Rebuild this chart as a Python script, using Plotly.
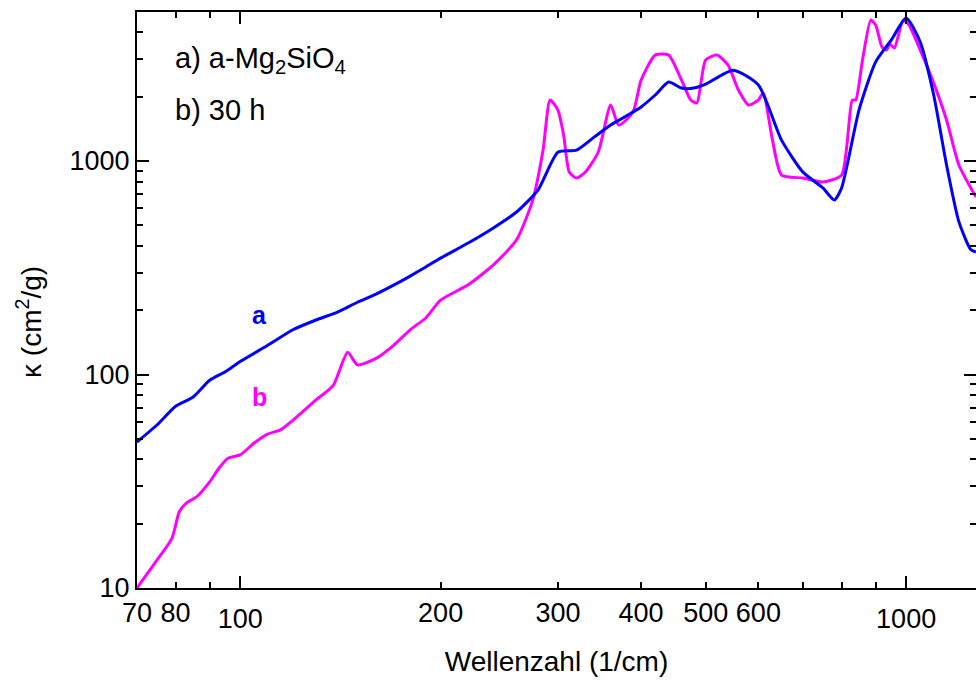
import numpy as np
import plotly.graph_objects as go

# ---- data ----
wn_a = [70, 75, 80, 85, 90, 95, 100, 110, 120, 130, 140, 150, 160, 170, 180, 190, 200,
        220, 240, 260, 280, 300, 320, 340, 360, 380, 400, 420, 440, 460, 480, 500, 550,
        600, 650, 700, 750, 780, 800, 850, 900, 950, 1000, 1050, 1100, 1150, 1200, 1250, 1273]
kappa_a = [48.3, 58, 71, 78.5, 94, 103, 115, 137, 162, 180, 196, 218, 238, 262, 289, 319, 351,
           413, 486, 577, 731, 1100, 1125, 1294, 1474, 1625, 1792, 2038, 2344, 2196, 2196, 2291, 2665,
           2270, 1253, 887, 748, 657, 748, 1741, 2912, 3690, 4677, 3606, 2038, 958, 520, 385, 375]

wn_b = [70, 75, 79, 81, 83, 86, 90, 93, 96, 100, 105, 110, 115, 120, 130, 138, 145, 150, 160,
        170, 180, 190, 200, 220, 240, 260, 275, 285, 292, 300, 306, 312, 320, 330, 345, 360,
        370, 380, 390, 400, 420, 440, 460, 475, 485, 500, 520, 540, 560, 580, 600, 610, 630,
        650, 700, 750, 800, 830, 840, 860, 885, 900, 920, 935, 945, 960, 990, 1010, 1050,
        1100, 1150, 1200, 1273]
kappa_b = [10, 13.5, 17.1, 22.7, 25, 26.7, 31.4, 36.5, 40.6, 42, 47.8, 52.6, 55, 61, 76, 89, 127, 111, 119,
           137, 162, 184, 223, 263, 326, 427, 656, 1125, 1930, 1733, 1324, 888, 832, 888, 1102, 1828,
           1474, 1557, 1733, 2393, 3134, 3134, 2393, 1930, 1870, 2973, 3134, 2818, 2150, 1828, 1930, 2080, 1253,
           859, 832, 798, 859, 1930, 1930, 2973, 4571, 4335, 3420, 3310, 3534, 3381, 4571, 4335, 3310,
           2317, 1557, 958, 678]

x_major = [100, 1000]
x_major_text = ["100", "1000"]
x_extra_labels = [70, 80, 200, 300, 400, 500, 600]
x_minor = [70, 80, 90, 200, 300, 400, 500, 600, 700, 800, 900]
y_major = [10, 100, 1000]
y_major_text = ["10", "100", "1000"]
y_minor = [20, 30, 40, 50, 60, 70, 80, 90, 200, 300, 400, 500, 600, 700, 800, 900,
           2000, 3000, 4000, 5000]

XR = [np.log10(70), 3.1049]
YR = [1.0, 3.698]

FONT = "Liberation Sans, Arial, sans-serif"
BLUE = "#0000ff"
MAGENTA = "#ff00ff"

fig = go.Figure()
fig.add_trace(go.Scatter(x=wn_b, y=kappa_b, mode="lines", line=dict(color=MAGENTA, width=3, shape="spline", smoothing=0.6),
                         showlegend=False, hoverinfo="skip"))
fig.add_trace(go.Scatter(x=wn_a, y=kappa_a, mode="lines", line=dict(color=BLUE, width=3, shape="spline", smoothing=0.6),
                         showlegend=False, hoverinfo="skip"))
# empty traces so overlay axes are drawn
fig.add_trace(go.Scatter(x=[], y=[], xaxis="x2", yaxis="y", showlegend=False))
fig.add_trace(go.Scatter(x=[], y=[], xaxis="x3", yaxis="y", showlegend=False))
fig.add_trace(go.Scatter(x=[], y=[], xaxis="x", yaxis="y2", showlegend=False))

common = dict(showgrid=False, zeroline=False)
fig.update_layout(
    width=976, height=681,
    margin=dict(l=137, r=0, t=12, b=93),
    paper_bgcolor="white", plot_bgcolor="white",
    font=dict(family=FONT, color="black", size=27),
    showlegend=False,
    xaxis=dict(type="log", range=XR, showline=True, linecolor="black", linewidth=2,
               ticks="inside", tickvals=x_major, ticktext=x_major_text, ticklen=12, tickwidth=2,
               tickcolor="black", tickfont=dict(size=27), ticklabelstandoff=6,
               minor=dict(tickvals=x_minor, ticks="inside", ticklen=6, tickwidth=2, tickcolor="black"),
               title=dict(text="Wellenzahl (1/cm)", font=dict(size=28), standoff=18), **common),
    xaxis2=dict(type="log", range=XR, overlaying="x", anchor="y", side="bottom", showline=False,
                ticks="", tickvals=x_extra_labels, ticktext=[str(v) for v in x_extra_labels],
                tickfont=dict(size=27), ticklabelstandoff=6, **common),
    xaxis3=dict(type="log", range=XR, overlaying="x", anchor="y", side="top", showline=True,
                linecolor="black", linewidth=2, ticks="inside", tickvals=x_major, ticklen=12, tickwidth=2,
                tickcolor="black", showticklabels=False,
                minor=dict(tickvals=x_minor, ticks="inside", ticklen=6, tickwidth=2, tickcolor="black"), **common),
    yaxis=dict(type="log", range=YR, showline=True, linecolor="black", linewidth=2,
               ticks="inside", tickvals=y_major, ticktext=y_major_text, ticklen=12, tickwidth=2,
               tickcolor="black", tickfont=dict(size=27),
               minor=dict(tickvals=y_minor, ticks="inside", ticklen=6, tickwidth=2, tickcolor="black"),
               **common),
    yaxis2=dict(type="log", range=YR, overlaying="y", anchor="x", side="right", showline=False,
                ticks="inside", tickvals=y_major, ticklen=12, tickwidth=2, tickcolor="black",
                showticklabels=False,
                minor=dict(tickvals=y_minor, ticks="inside", ticklen=6, tickwidth=2, tickcolor="black"), **common),
)

# y-axis title as rotated annotation
fig.add_annotation(text="κ (cm<sup>2</sup>/g)", xref="paper", yref="paper", x=-0.1287, y=0.462,
                   xanchor="center", yanchor="middle", textangle=-90, showarrow=False,
                   font=dict(size=28, color="black"))
fig.add_annotation(text="a) a-Mg<sub>2</sub>SiO<sub>4</sub>", xref="paper", yref="paper", x=0.0429, y=0.917,
                   xanchor="left", yanchor="middle", showarrow=False, font=dict(size=29, color="black"))
fig.add_annotation(text="b) 30 h", xref="paper", yref="paper", x=0.0429, y=0.83,
                   xanchor="left", yanchor="middle", showarrow=False, font=dict(size=29, color="black"))
fig.add_annotation(text="<b>a</b>", xref="paper", yref="paper", x=0.1466, y=0.474,
                   xanchor="center", yanchor="middle", showarrow=False, font=dict(size=25, color=BLUE))
fig.add_annotation(text="<b>b</b>", xref="paper", yref="paper", x=0.1466, y=0.332,
                   xanchor="center", yanchor="middle", showarrow=False, font=dict(size=25, color=MAGENTA))

fig.write_html("out.html")
